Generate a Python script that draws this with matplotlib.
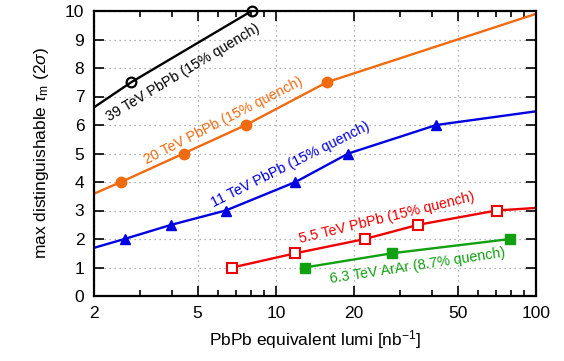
import numpy as np
import matplotlib
matplotlib.use("Agg")
import matplotlib.pyplot as plt
from matplotlib.ticker import FixedLocator, NullFormatter

plt.rcParams['font.family'] = ['Liberation Sans', 'DejaVu Sans']
plt.rcParams['mathtext.fontset'] = 'custom'
plt.rcParams['mathtext.rm'] = 'Liberation Sans'
plt.rcParams['mathtext.it'] = 'Liberation Sans:italic'

# ---- data ----
# line vertices (include points where the curve meets the frame)
x39_line = [2.0, 2.78, 8.07]
y39_line = [6.62, 7.5, 10.0]
x39_pts = [2.78, 8.07]
y39_pts = [7.5, 10.0]

x20_line = [2.0, 2.54, 4.42, 7.67, 15.7, 100.0]
y20_line = [3.59, 4.0, 5.0, 6.0, 7.5, 9.9]
x20_pts = [2.54, 4.42, 7.67, 15.7]
y20_pts = [4.0, 5.0, 6.0, 7.5]

x11_line = [2.0, 2.62, 3.97, 6.42, 11.9, 19.0, 41.4, 100.0]
y11_line = [1.69, 2.0, 2.5, 3.0, 4.0, 5.0, 6.0, 6.48]
x11_pts = [2.62, 3.97, 6.42, 11.9, 19.0, 41.4]
y11_pts = [2.0, 2.5, 3.0, 4.0, 5.0, 6.0]

x55_line = [6.8, 11.9, 22.0, 35.3, 70.5, 100.0]
y55_line = [1.0, 1.5, 2.0, 2.5, 3.0, 3.09]
x55_pts = [6.8, 11.9, 22.0, 35.3, 70.5]
y55_pts = [1.0, 1.5, 2.0, 2.5, 3.0]

xar_pts = [12.9, 28.0, 79.6]
yar_pts = [1.0, 1.5, 2.0]

c_black = 'black'
c_orange = '#f06a10'
c_blue = '#0000e0'
c_red = '#ee0000'
c_green = '#10a010'

fig = plt.figure(figsize=(5.64, 3.61), dpi=100)
ax = fig.add_axes([94/564, 65/361, 442/564, 285/361])

lw = 1.7
ax.plot(x39_line, y39_line, color=c_black, lw=lw)
ax.plot(x39_pts, y39_pts, 'o', color=c_black, mfc='none', mew=1.6, ms=7, clip_on=False)

ax.plot(x20_line, y20_line, color=c_orange, lw=lw)
ax.plot(x20_pts, y20_pts, 'o', color=c_orange, ms=7.5)

ax.plot(x11_line, y11_line, color=c_blue, lw=lw)
ax.plot(x11_pts, y11_pts, '^', color=c_blue, ms=7.5)

ax.plot(x55_line, y55_line, color=c_red, lw=lw)
ax.plot(x55_pts, y55_pts, 's', color=c_red, mfc='white', mew=1.5, ms=6.5)

ax.plot(xar_pts, yar_pts, color=c_green, lw=lw)
ax.plot(xar_pts, yar_pts, 's', color=c_green, ms=7)

ax.set_xscale('log')
ax.set_xlim(2, 100)
ax.set_ylim(0, 10)

major = [2, 5, 10, 20, 50, 100]
minor = [3, 4, 6, 7, 8, 9, 30, 40, 60, 70, 80, 90]
ax.xaxis.set_major_locator(FixedLocator(major))
ax.xaxis.set_minor_locator(FixedLocator(minor))
ax.set_xticklabels([str(v) for v in major])
ax.xaxis.set_minor_formatter(NullFormatter())
ax.set_yticks(range(0, 11))

ax.tick_params(which='both', direction='in', top=True, right=True, labelsize=12.5)
ax.tick_params(which='major', length=7, width=1.2, pad=7)
ax.tick_params(which='minor', length=4, width=1.2)
for s in ax.spines.values():
    s.set_linewidth(1.6)

ax.grid(True, which='major', color='#999999', ls=(0, (1, 3)), lw=0.9)
ax.set_axisbelow(True)

ax.set_xlabel('PbPb equivalent lumi [nb$^{-1}$]', fontsize=12.5, labelpad=5)
ax.set_ylabel(r'max distinguishable $\tau_{\rm m}$ (2$\sigma$)', fontsize=12.5, labelpad=10)

fs = 10.3
ax.text(4.41, 7.84, '39 TeV PbPb (15% quench)', color=c_black, fontsize=fs,
        rotation=31, ha='center', va='center', rotation_mode='anchor')
ax.text(6.26, 6.16, '20 TeV PbPb (15% quench)', color=c_orange, fontsize=fs,
        rotation=27, ha='center', va='center', rotation_mode='anchor')
ax.text(11.4, 4.61, '11 TeV PbPb (15% quench)', color=c_blue, fontsize=fs,
        rotation=26.5, ha='center', va='center', rotation_mode='anchor')
ax.text(26.6, 2.74, '5.5 TeV PbPb (15% quench)', color=c_red, fontsize=fs,
        rotation=13.7, ha='center', va='center', rotation_mode='anchor')
ax.text(35.2, 1.05, '6.3 TeV ArAr (8.7% quench)', color=c_green, fontsize=fs,
        rotation=8.6, ha='center', va='center', rotation_mode='anchor')

fig.savefig('out.png', dpi=100)
